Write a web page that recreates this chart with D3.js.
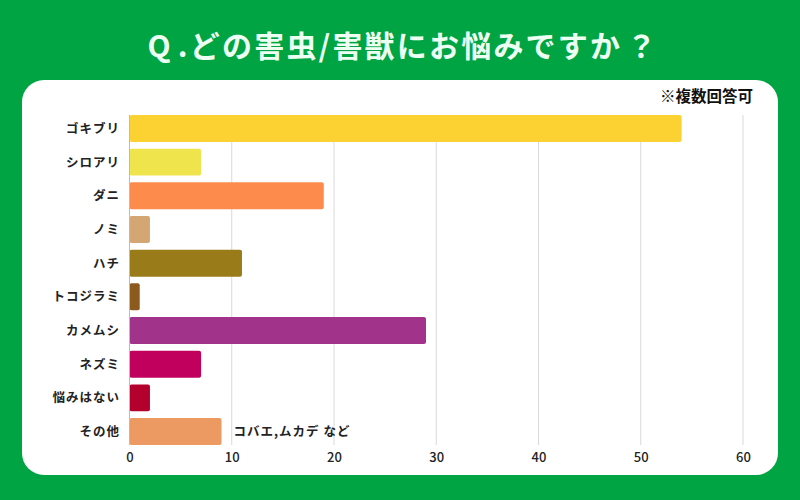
<!DOCTYPE html>
<html>
<head>
<meta charset="utf-8">
<script src="https://cdn.jsdelivr.net/npm/d3@7"></script>
<style>
    body { margin: 0; background: #00a443; }
    svg { display: block; font-family: "Noto Sans CJK JP", "Noto Sans", sans-serif; }
</style>
</head>
<body>
<div id="chart"></div>
<script>
// Data
const categories = ["ゴキブリ", "シロアリ", "ダニ", "ノミ", "ハチ", "トコジラミ", "カメムシ", "ネズミ", "悩みはない", "その他"]
const counts = [54, 7, 19, 2, 11, 1, 29, 7, 2, 9]
const barColors = ["#fcd232", "#f0e44c", "#fd8c4c", "#d4a674", "#9a7b19", "#8d5a1e", "#a2338a", "#c0005c", "#b3002c", "#ed9a62"]
const xTicks = [0, 10, 20, 30, 40, 50, 60]
// title pieces, drawn as one text with small gaps
const titleParts = ["Q", ".", "どの害虫/害獣にお悩みですか", "？"]
const noteText = "※複数回答可"
const otherNote = "コバエ,ムカデ など"

const W = 800, H = 500

const svg = d3.select("#chart")
    .append("svg")
    .attr("width", W)
    .attr("height", H)

// Green background and white panel
svg.append("rect")
    .attr("width", W)
    .attr("height", H)
    .attr("fill", "#00a443")

svg.append("rect")
    .attr("x", 22)
    .attr("y", 80)
    .attr("width", 756)
    .attr("height", 395)
    .attr("rx", 22)
    .attr("fill", "#ffffff")

// Title
const title = svg.append("text")
    .attr("x", W / 2 + 3)
    .attr("y", 57)
    .attr("text-anchor", "middle")
    .attr("font-size", 30)
    .attr("font-weight", "bold")
    .attr("letter-spacing", 2.2)
    .attr("fill", "#ecfff2")

const gaps = [0, 5, 0, 4]
title.selectAll("tspan")
    .data(titleParts)
    .enter()
    .append("tspan")
    .attr("dx", (d, i) => gaps[i])
    .text(d => d)

// Note at top right
svg.append("text")
    .attr("x", 753)
    .attr("y", 102)
    .attr("text-anchor", "end")
    .attr("font-size", 15.5)
    .attr("font-weight", "bold")
    .attr("fill", "#111")
    .text(noteText)

// Scales
const xScale = d3.scaleLinear().domain([0, 60]).range([129.5, 743])
const yScale = d3.scaleBand().domain(categories).range([115, 445]).paddingInner(0.2).paddingOuter(0)

// Grid lines
svg.append("g")
    .selectAll("line")
    .data(xTicks.slice(1))
    .enter()
    .append("line")
    .attr("x1", d => xScale(d))
    .attr("x2", d => xScale(d))
    .attr("y1", 115)
    .attr("y2", 445)
    .attr("stroke", "#d9d9d9")
    .attr("stroke-width", 1)

// Bars
svg.append("g")
    .selectAll("rect")
    .data(categories)
    .enter()
    .append("rect")
    .attr("x", xScale(0))
    .attr("y", d => yScale(d))
    .attr("width", (d, i) => xScale(counts[i]) - xScale(0))
    .attr("height", yScale.bandwidth())
    .attr("rx", 2)
    .attr("fill", (d, i) => barColors[i])

// Baseline
svg.append("line")
    .attr("x1", xScale(0))
    .attr("x2", xScale(0))
    .attr("y1", 115)
    .attr("y2", 445)
    .attr("stroke", "#bbbbbb")

// Category labels
svg.append("g")
    .selectAll("text")
    .data(categories)
    .enter()
    .append("text")
    .attr("x", 120)
    .attr("y", d => yScale(d) + yScale.bandwidth() / 2)
    .attr("dy", "0.35em")
    .attr("text-anchor", "end")
    .attr("font-size", 12.5)
    .attr("font-weight", "bold")
    .attr("letter-spacing", 1)
    .attr("fill", "#222")
    .text(d => d)

// Note next to その他
const last = categories[categories.length - 1]
svg.append("text")
    .attr("x", xScale(counts[counts.length - 1]) + 12)
    .attr("y", yScale(last) + yScale.bandwidth() / 2)
    .attr("dy", "0.35em")
    .attr("font-size", 12.5)
    .attr("font-weight", "bold")
    .attr("letter-spacing", 1)
    .attr("fill", "#222")
    .text(otherNote)

// X axis tick labels
const xAxis = svg.append("g")
    .attr("transform", "translate(0, 450)")
    .call(d3.axisBottom(xScale).tickValues(xTicks).tickSize(0).tickPadding(3))

xAxis.select(".domain").remove()
xAxis.selectAll("text")
    .attr("font-family", "'Noto Sans CJK JP', sans-serif")
    .attr("font-size", 13)
    .attr("font-weight", 500)
    .attr("fill", "#222")
</script>
</body>
</html>
